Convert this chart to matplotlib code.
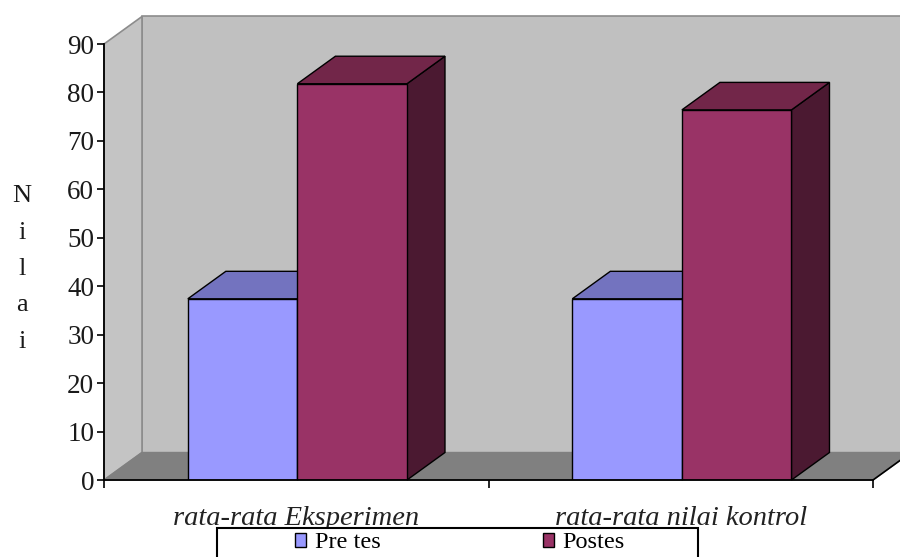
import matplotlib
matplotlib.use("Agg")
import matplotlib.pyplot as plt
from matplotlib.patches import Polygon, Rectangle
import numpy as np

# ---- data ----
categories = ["rata-rata Eksperimen", "rata-rata nilai kontrol"]
series_names = ["Pre tes", "Postes"]
pre_tes = [37.4, 37.4]
postes = [81.8, 76.4]
y_ticks = [0, 10, 20, 30, 40, 50, 60, 70, 80, 90]
y_label = "N\ni\nl\na\ni"

plt.rcParams['font.family'] = ['Liberation Serif', 'DejaVu Serif']

fig = plt.figure(figsize=(9, 5.57), dpi=100)
ax = fig.add_axes([104/900, 77/557, 769/900, 436/557])
ax.set_xlim(0, len(categories))
ax.set_ylim(0, 90)
ax.patch.set_visible(False)

# depth offset (pseudo 3D), data units
DX = 38/769*len(categories)
DY = 27.5/436*90
XMAX = len(categories)
YMAX = 90

wall_c = '#C0C0C0'
edge_c = '#8C8C8C'
back = Polygon([(DX, DY), (XMAX+DX, DY), (XMAX+DX, YMAX+DY), (DX, YMAX+DY)],
               closed=True, fc=wall_c, ec=edge_c, lw=1.2, clip_on=False, zorder=0.5)
left = Polygon([(0, 0), (DX, DY), (DX, YMAX+DY), (0, YMAX)],
               closed=True, fc='#C4C4C4', ec=edge_c, lw=1.2, clip_on=False, zorder=0.6)
floor = Polygon([(0, 0), (XMAX, 0), (XMAX+DX, DY), (DX, DY)],
                closed=True, fc='#808080', ec='#808080', lw=1.0, clip_on=False, zorder=0.7)
for p in (back, left, floor):
    ax.add_patch(p)
ax.plot([XMAX, XMAX+DX], [0, DY], color='black', lw=1.2, clip_on=False, zorder=0.8)

w = 0.285
x = np.arange(len(categories)) + 0.503

colors = [('#9999FF', '#7373BF', '#4C4C80'), ('#993366', '#722649', '#4B1931')]
handles = []
for s, (vals, (cf, ct, cs)) in enumerate(zip([pre_tes, postes], colors)):
    lefts = x - w + s*w
    z = 2 + s
    for x0, h in zip(lefts, vals):
        side = Polygon([(x0+w, 0), (x0+w+DX, DY), (x0+w+DX, h+DY), (x0+w, h)],
                       closed=True, fc=cs, ec='black', lw=1.0, zorder=z, clip_on=False)
        top = Polygon([(x0, h), (x0+w, h), (x0+w+DX, h+DY), (x0+DX, h+DY)],
                      closed=True, fc=ct, ec='black', lw=1.0, zorder=z, clip_on=False)
        ax.add_patch(side)
        ax.add_patch(top)
    b = ax.bar(lefts, vals, width=w, align='edge', color=cf, edgecolor='black',
               lw=1.0, zorder=z+0.1, label=series_names[s])
    handles.append(b)

# spines
for sp in ('top', 'right'):
    ax.spines[sp].set_visible(False)
for sp in ('left', 'bottom'):
    ax.spines[sp].set_color('black')
    ax.spines[sp].set_linewidth(1.3)
    ax.spines[sp].set_zorder(5)

ax.set_yticks(y_ticks)
ax.set_yticklabels([str(t) for t in y_ticks])
ax.tick_params(axis='y', direction='out', length=5, width=1.2, pad=2,
               labelsize=19.5, labelcolor='#1a1a1a')

ax.set_xticks(np.arange(len(categories)+1))
ax.set_xticklabels([''] * (len(categories)+1))
ax.tick_params(axis='x', which='major', direction='out', length=6, width=1.2)
ax.set_xticks(np.arange(len(categories)) + 0.5, minor=True)
ax.set_xticklabels(categories, minor=True, fontstyle='italic', fontsize=20.5, color='#222222')
ax.tick_params(axis='x', which='minor', length=0, pad=19)

ax.set_ylabel(y_label, rotation=0, fontsize=19, linespacing=1.85,
              ha='center', va='center', color='#1a1a1a')
ax.yaxis.set_label_coords(-82/769, (480-269)/436)

# legend frame (cut by figure bottom)
fig.add_artist(Rectangle((217/900, -0.1), (698-217)/900, (557-528)/557 + 0.1,
                         transform=fig.transFigure, fc='white', ec='black', lw=1.5, zorder=1))
leg = fig.legend(handles, series_names, loc='center', bbox_to_anchor=(460/900, 1-543/557),
                 ncol=2, frameon=False, handlelength=0.45, handleheight=0.5,
                 handletextpad=0.35, columnspacing=6.7, fontsize=17.5,
                 borderpad=0, borderaxespad=0)
leg.set_zorder(2)

fig.savefig('out.png', dpi=100)
